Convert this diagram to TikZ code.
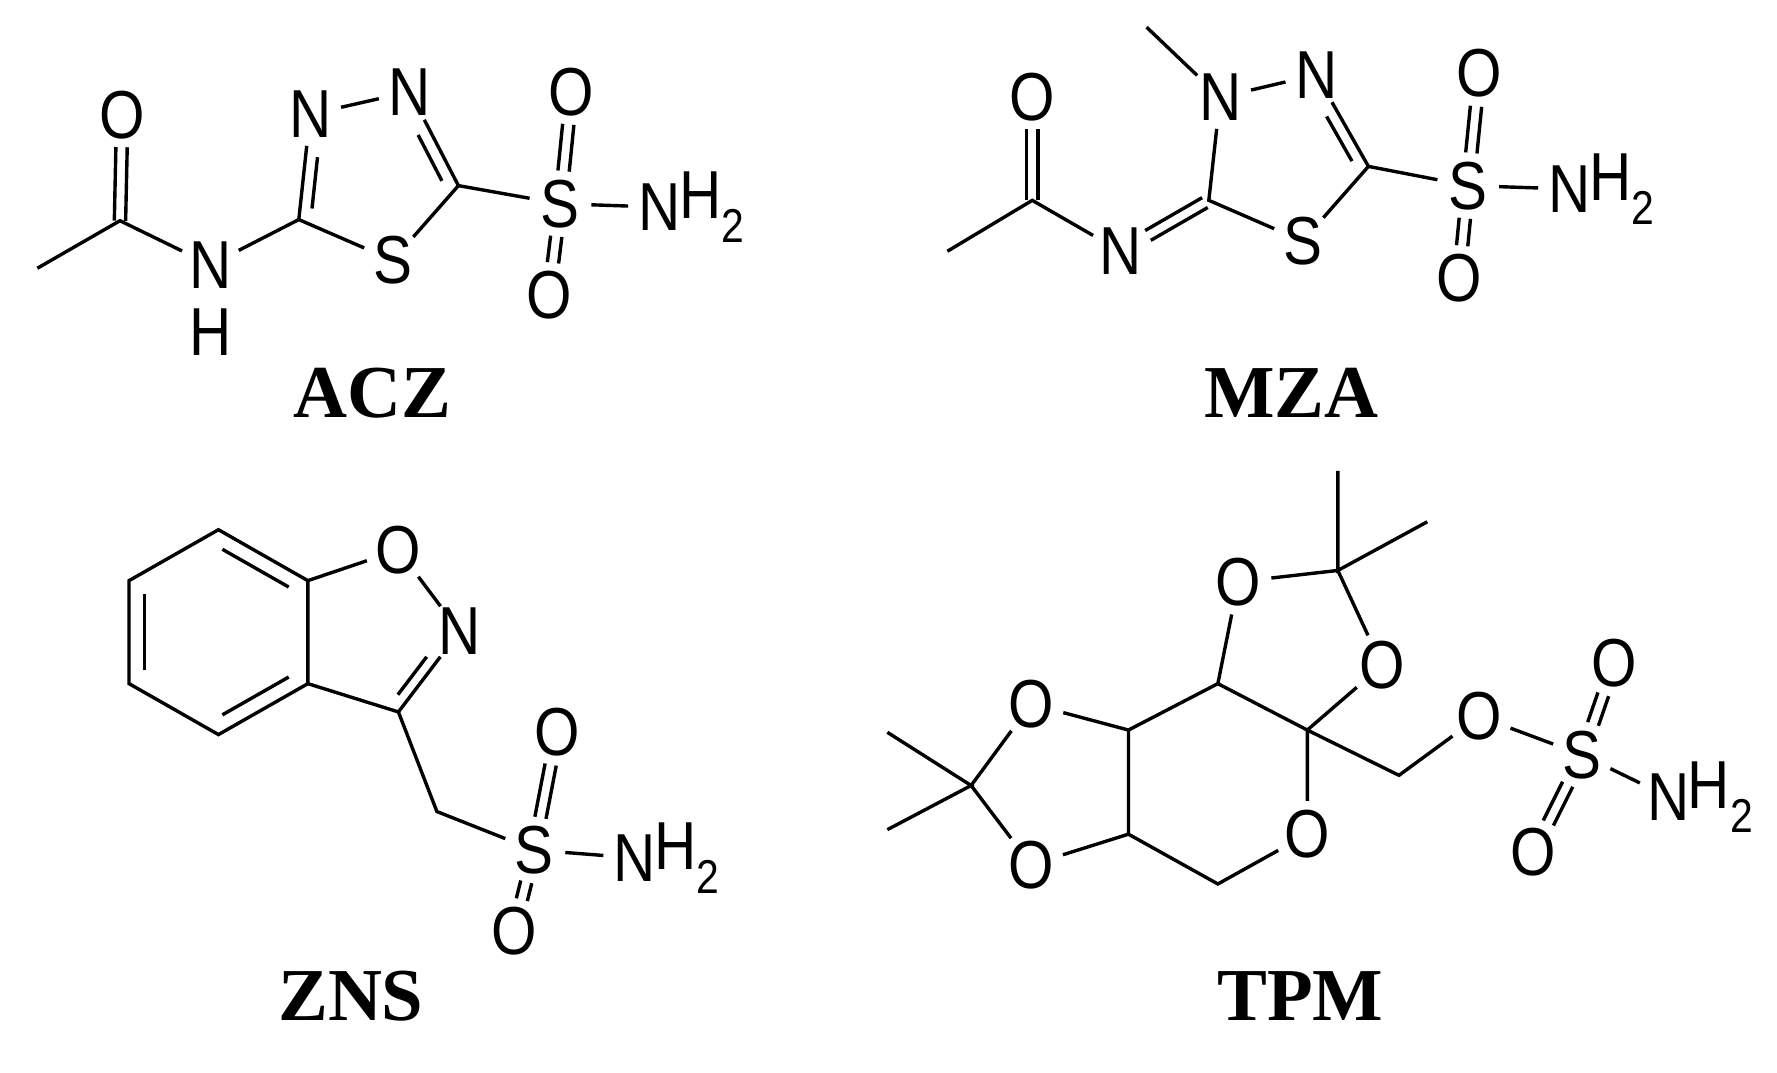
\documentclass[tikz,border=0pt]{standalone}
\usepackage{fontspec}
\setmainfont{Liberation Sans}
\newfontfamily\atomfont[FakeStretch=0.86]{Liberation Sans}
\newfontfamily\lblfont{Liberation Serif}
\usetikzlibrary{calc}
\tikzset{
  atom/.style={circle,inner sep=0pt,minimum size=50pt,font=\atomfont\fontsize{60}{60}\selectfont},
  bond/.style={line width=3pt},
  molname/.style={font=\lblfont\bfseries\fontsize{66}{66}\selectfont},
  hsub/.style={anchor=west,inner sep=0pt,font=\atomfont\fontsize{60}{60}\selectfont}
}
\newcommand\dbl[4]{%
 \draw[bond,shorten <=#3,shorten >=#4] ($(#1)!5pt!90:(#2)$) -- ($(#2)!5pt!-90:(#1)$);
 \draw[bond,shorten <=#3,shorten >=#4] ($(#1)!5pt!-90:(#2)$) -- ($(#2)!5pt!90:(#1)$);}
\newcommand\inr[5]{% a b center shortenA shortenB
 \draw[bond,shorten <=#4,shorten >=#5] ($(#1)!0.17!(#3)$) -- ($(#2)!0.17!(#3)$);}
\newcommand\htwo[1]{\node[hsub] at ($(#1)+(17pt,0)$) {H\raisebox{-0.35em}{\fontsize{42}{42}\selectfont 2}};}
\begin{document}
\begin{tikzpicture}[x=1pt,y=-1pt]
\useasboundingbox (0,0) rectangle (1570,948);
% ---------------- ACZ
\coordinate (a1) at (33,237); \coordinate (a2) at (106,195);
\node[atom] (aO1) at (108,102) {O};
\node[atom] (aN1) at (186,234) {N};
\node[atom] (aH1) at (186,293) {H};
\coordinate (a3) at (264,194);
\node[atom] (aN2) at (274,101) {N};
\node[atom] (aN3) at (362,81) {N};
\coordinate (a4) at (405,164);
\node[atom] (aS1) at (347,230) {S};
\coordinate (actr) at (330,160);
\node[atom] (aS2) at (495,180) {S};
\node[atom] (aO2) at (505,81) {O};
\node[atom] (aO3) at (485,261) {O};
\node[atom] (aN4) at (583,183) {N}; \htwo{aN4}
\draw[bond] (a1) -- (a2) -- (aN1) -- (a3) -- (aN2) -- (aN3) -- (a4) -- (aS1) -- (a3);
\draw[bond] (a4) -- (aS2) -- (aN4);
\dbl{a2}{aO1.center}{0pt}{28pt}
\inr{a3}{aN2.center}{actr}{4pt}{28pt}
\inr{aN3.center}{a4}{actr}{28pt}{4pt}
\dbl{aS2.center}{aO2.center}{29pt}{29pt}
\dbl{aS2.center}{aO3.center}{29pt}{29pt}
\node[molname] (lACZ) at (329,347) {ACZ};
% ---------------- MZA
\coordinate (m0) at (1013,24);
\node[atom] (mN4) at (1078,86) {N};
\node[atom] (mN3) at (1163,66) {N};
\coordinate (m2) at (1209,147);
\node[atom] (mS1) at (1151,213) {S};
\coordinate (m5) at (1068,177);
\coordinate (mctr) at (1135,140);
\node[atom] (mNx) at (990,222) {N};
\coordinate (mc) at (912,177);
\node[atom] (mO) at (912,86) {O};
\coordinate (mme) at (837,222);
\node[atom] (mS2) at (1297,164) {S};
\node[atom] (mOt) at (1307,65) {O};
\node[atom] (mOb) at (1289,246) {O};
\node[atom] (mN5) at (1387,167) {N}; \htwo{mN5}
\draw[bond] (m0) -- (mN4) -- (mN3) -- (m2) -- (mS1) -- (m5) -- (mN4);
\draw[bond] (mme) -- (mc) -- (mNx);
\draw[bond] (m2) -- (mS2) -- (mN5);
\inr{mN3.center}{m2}{mctr}{28pt}{4pt}
\dbl{m5}{mNx.center}{4pt}{28pt}
\dbl{mc}{mO.center}{0pt}{28pt}
\dbl{mS2.center}{mOt.center}{29pt}{29pt}
\dbl{mS2.center}{mOb.center}{29pt}{29pt}
\node[molname] (lMZA) at (1141,347) {MZA};
% ---------------- ZNS
\coordinate (b1) at (193,468); \coordinate (b2) at (272,513);
\coordinate (b3) at (272,604); \coordinate (b4) at (193,649);
\coordinate (b5) at (114,604); \coordinate (b6) at (114,513);
\coordinate (bctr) at (193,558);
\node[atom] (zO) at (352,486) {O};
\node[atom] (zN) at (406,558) {N};
\coordinate (z3) at (352,629);
\coordinate (zctr) at (335,558);
\coordinate (zc) at (386,717);
\node[atom] (zS) at (472,751) {S};
\node[atom] (zOt) at (492,647) {O};
\node[atom] (zOb) at (454,823) {O};
\node[atom] (zN2) at (561,758) {N}; \htwo{zN2}
\draw[bond] (b1) -- (b2) -- (b3) -- (b4) -- (b5) -- (b6) -- cycle;
\inr{b1}{b2}{bctr}{4pt}{4pt}
\inr{b3}{b4}{bctr}{4pt}{4pt}
\inr{b5}{b6}{bctr}{4pt}{4pt}
\draw[bond] (b2) -- (zO) -- (zN) -- (z3) -- (b3);
\inr{zN.center}{z3}{zctr}{28pt}{4pt}
\draw[bond] (z3) -- (zc) -- (zS) -- (zN2);
\dbl{zS.center}{zOt.center}{29pt}{29pt}
\dbl{zS.center}{zOb.center}{29pt}{29pt}
\node[molname] (lZNS) at (310,880) {ZNS};
% ---------------- TPM
\coordinate (tq) at (1182,504); \coordinate (tm1) at (1182,416); \coordinate (tm2) at (1261,461);
\node[atom] (tO1) at (1094,514) {O};
\node[atom] (tO2) at (1221,588) {O};
\coordinate (tc1) at (1076,604); \coordinate (tsp) at (1155,645);
\node[atom] (tOr) at (1155,737) {O};
\coordinate (tc2) at (1076,781); \coordinate (tc3) at (997,737); \coordinate (tc4) at (997,645);
\node[atom] (tO3) at (911,622) {O};
\node[atom] (tO4) at (911,764) {O};
\coordinate (tq2) at (858,694); \coordinate (tm3) at (784,647); \coordinate (tm4) at (784,733);
\coordinate (tch) at (1236,685);
\node[atom] (tOe) at (1307,633) {O};
\node[atom] (tS) at (1398,667) {S};
\node[atom] (tOt) at (1426,586) {O};
\node[atom] (tOb) at (1355,753) {O};
\node[atom] (tN) at (1474,704) {N}; \htwo{tN}
\draw[bond] (tm1) -- (tq) -- (tm2);
\draw[bond] (tO1) -- (tq) -- (tO2);
\draw[bond] (tO1) -- (tc1) -- (tsp) -- (tO2);
\draw[bond] (tsp) -- (tOr) -- (tc2) -- (tc3) -- (tc4) -- (tc1);
\draw[bond] (tc4) -- (tO3) -- (tq2) -- (tO4) -- (tc3);
\draw[bond] (tm3) -- (tq2) -- (tm4);
\draw[bond] (tsp) -- (tch) -- (tOe) -- (tS) -- (tN);
\dbl{tS.center}{tOt.center}{29pt}{29pt}
\dbl{tS.center}{tOb.center}{29pt}{29pt}
\node[molname] (lTPM) at (1149,880) {TPM};
\end{tikzpicture}
\end{document}
